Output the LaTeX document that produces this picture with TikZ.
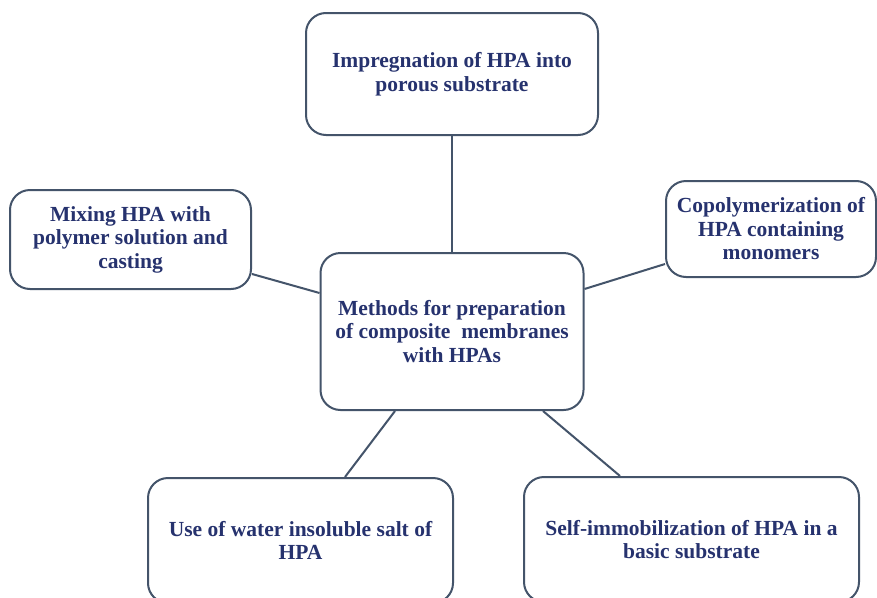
\documentclass[tikz,border=0pt]{standalone}
\usepackage{fontspec}
\setmainfont{Liberation Serif}
\usetikzlibrary{calc}
\definecolor{edgecol}{HTML}{44546A}
\definecolor{txtcol}{RGB}{38,50,110}
\tikzset{
  mbox/.style={draw=edgecol, line width=2pt, rounded corners=20pt, fill=white,
    inner sep=0pt, align=center, text=txtcol,
    font=\fontsize{21.5}{23.5}\selectfont\bfseries},
  link/.style={draw=edgecol, line width=2pt}
}
\begin{document}
\begin{tikzpicture}[x=1pt,y=-1pt]
\clip (0,0) rectangle (877,597);
\fill[white] (0,0) rectangle (877,597);
\node[mbox, minimum width=292pt, minimum height=122pt] (top) at (452,74) {Impregnation of HPA into\\porous substrate};
\node[mbox, minimum width=241pt, minimum height=99pt] (left) at (130.5,239.5) {Mixing HPA with\\polymer solution and\\casting};
\node[mbox, minimum width=210pt, minimum height=96pt] (right) at (771,229) {Copolymerization of\\HPA containing\\monomers};
\node[mbox, minimum width=263pt, minimum height=157pt] (cen) at (452,331.5) {Methods for preparation\\of composite \ membranes\\with HPAs};
\node[mbox, minimum width=305pt, minimum height=125pt] (bl) at (300.5,540.5) {Use of water insoluble salt of\\HPA};
\node[mbox, minimum width=335pt, minimum height=125pt] (br) at (691.5,539.5) {Self-immobilization of HPA in a\\basic substrate};
\draw[link] (top.south) -- (cen.north);
\draw[link] ($(left.east)+(0,34.5)$) -- ($(cen.west)+(0,-38.5)$);
\draw[link] ($(cen.east)+(0,-42.5)$) -- ($(right.west)+(0,35)$);
\draw[link] ($(cen.south)+(-57,0)$) -- ($(bl.north)+(44.5,0)$);
\draw[link] ($(cen.south)+(91,0)$) -- ($(br.north)+(-71.5,0)$);
\end{tikzpicture}
\end{document}
